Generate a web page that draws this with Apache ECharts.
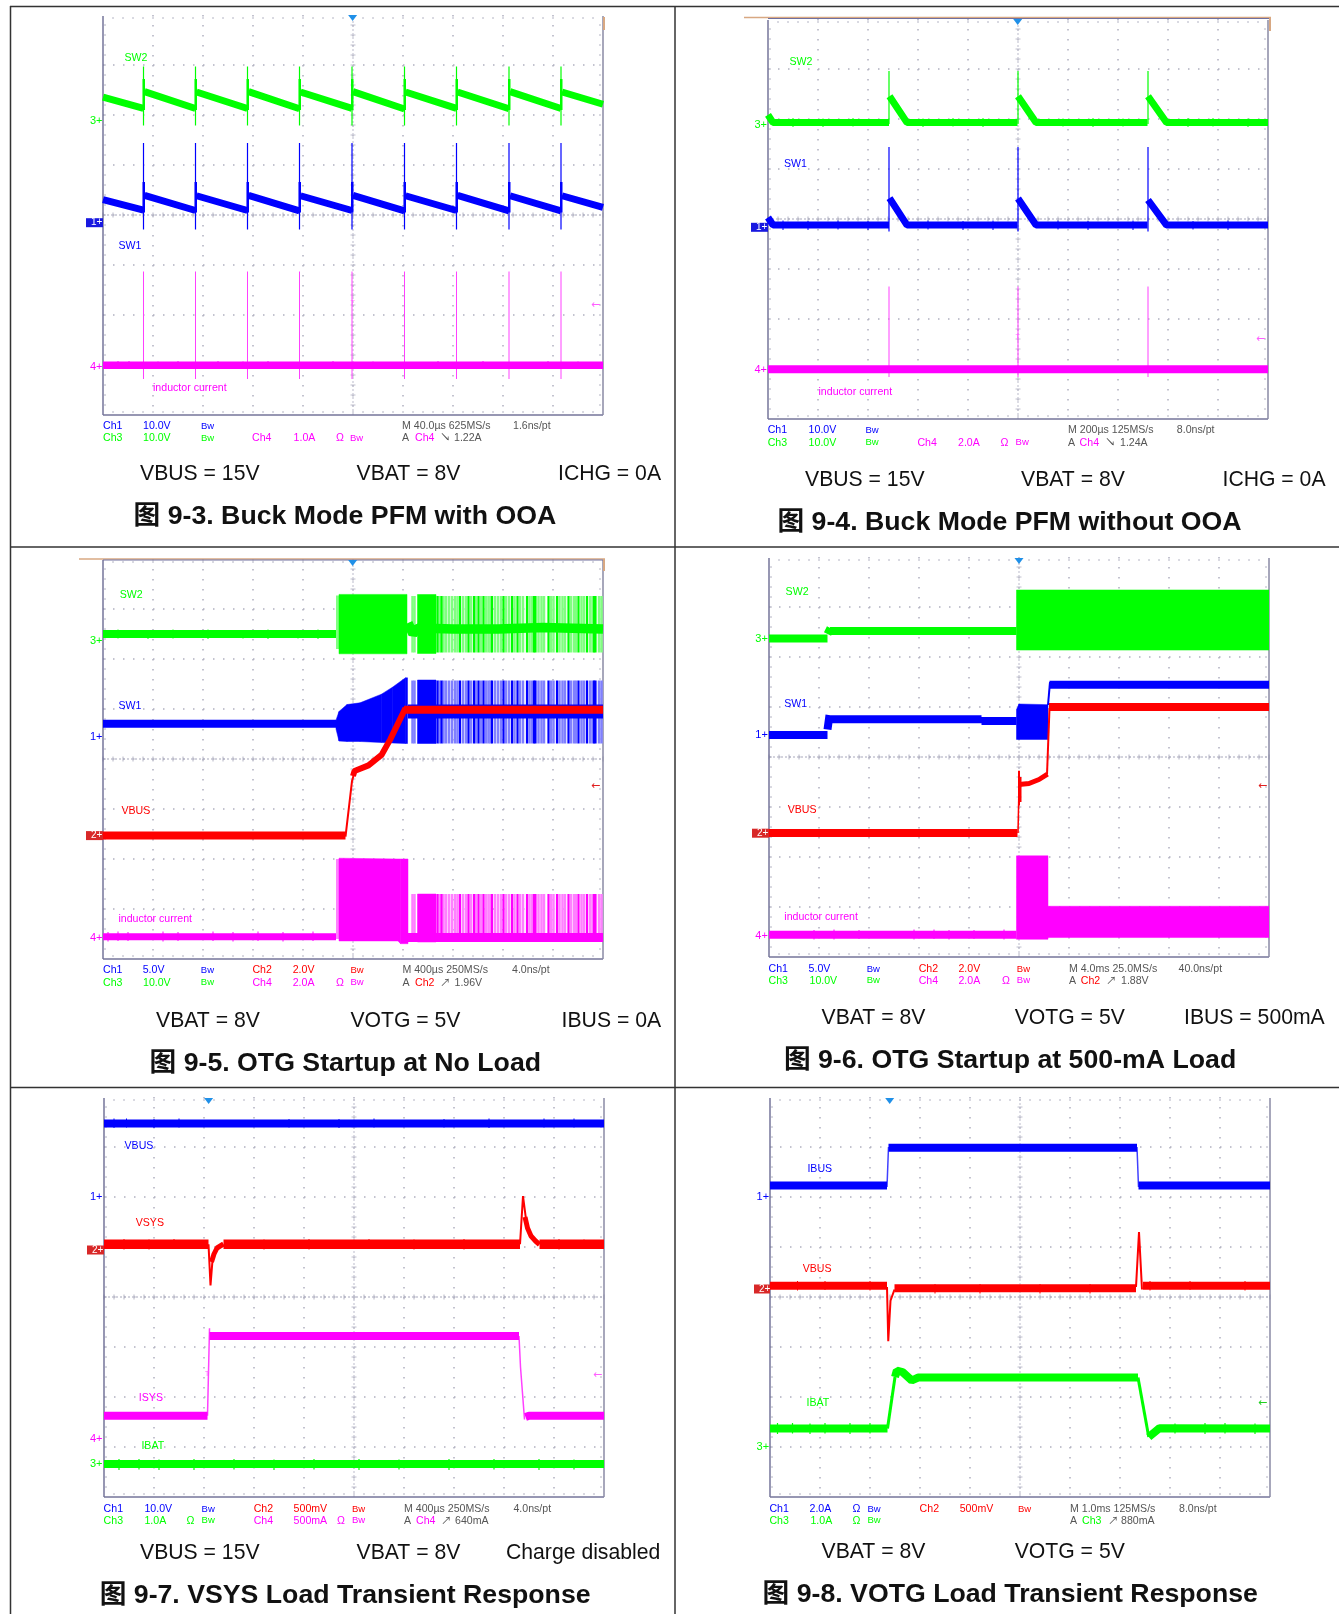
<!DOCTYPE html>
<html><head><meta charset="utf-8">
<style>html,body{margin:0;padding:0;background:#fff}#c{width:1339px;height:1614px}</style>
<script src="https://cdn.jsdelivr.net/npm/echarts@6/dist/echarts.min.js"></script>
</head><body><div id="c"></div>
<script>
// ---------- Values. x in horizontal divisions (0-10), y in vertical divisions (0-8). ----------
// Figure 9-3
const f3_sw2 = [[0,6.356],[0.81,6.131],null,[0.83,6.468],[1.85,6.131],null,[1.87,6.46],[2.89,6.13],null,[2.91,6.468],[3.93,6.125],null,[3.95,6.46],[4.98,6.131],null,[5.0,6.468],[6.03,6.12],null,[6.05,6.46],[7.07,6.131],null,[7.09,6.46],[8.12,6.125],null,[8.14,6.468],[9.16,6.131],null,[9.18,6.46],[10,6.215]];
const f3_sw1 = [[0,4.307],[0.81,4.097],null,[0.83,4.391],[1.85,4.09],null,[1.87,4.385],[2.89,4.09],null,[2.91,4.391],[3.93,4.083],null,[3.95,4.385],[4.98,4.09],null,[5.0,4.391],[6.03,4.083],null,[6.05,4.385],[7.07,4.09],null,[7.09,4.391],[8.12,4.083],null,[8.14,4.385],[9.16,4.083],null,[9.18,4.385],[10,4.153]];
const f3_il  = [[0,0.996],[10,0.996]];
const f3_edges = [0.81,1.85,2.89,3.93,4.98,6.03,7.07,8.12,9.16];
const f3_il_glitch = [[0.3,0.92,1.08],[0.52,0.92,1.08],[1.1,0.92,1.07],[1.5,0.92,1.08],[2.3,0.92,1.08],[2.8,0.92,1.07],[3.3,0.92,1.08],[4.6,0.92,1.08],[5.4,0.92,1.07],[6.7,0.92,1.08],[7.6,0.92,1.08],[8.9,0.92,1.08],[9.5,0.92,1.07]];
// Figure 9-4
const f4_sw2 = [[0,6.082],[0.1,5.928],[2.42,5.928],null,[2.43,6.454],[2.78,5.928],[4.99,5.928],null,[5.0,6.454],[5.36,5.928],[7.59,5.928],null,[7.6,6.454],[7.97,5.928],[10,5.928]];
const f4_sw1 = [[0,4.03],[0.1,3.879],[2.42,3.879],null,[2.43,4.419],[2.78,3.879],[4.99,3.879],null,[5.0,4.41],[5.36,3.879],[7.59,3.879],null,[7.6,4.38],[7.97,3.879],[10,3.879]];
const f4_il  = [[0,0.996],[10,0.996]];
const f4_edges = [2.42,5.0,7.6];
const f4_sw2_glitch = [[0.5,5.84,6.02],[1.1,5.84,6.01],[1.7,5.85,6.02],[3.1,5.84,6.01],[3.7,5.85,6.02],[4.3,5.84,6.02],[5.9,5.85,6.01],[6.5,5.84,6.02],[7.1,5.85,6.01],[8.4,5.84,6.02],[8.9,5.85,6.02],[9.6,5.84,6.01]];
const f4_sw1_glitch = [[0.3,3.78,3.97],[0.8,3.78,3.96],[1.4,3.79,3.97],[2.0,3.78,3.96],[3.2,3.79,3.97],[3.9,3.78,3.96],[4.5,3.78,3.97],[5.8,3.79,3.97],[6.4,3.78,3.96],[7.3,3.78,3.97],[8.5,3.79,3.96],[9.2,3.78,3.97]];
// Figure 9-5
const f5_sw2_flat = [[0,6.5],[4.66,6.5]];
const f5_sw2_mid  = [[6.1,6.72],[6.2,6.5],[6.3,6.62],[7.0,6.6],[7.9,6.6],[8.8,6.63],[10,6.6]];
const f5_sw2_env  = [[4.72,7.292,6.104],[6.08,7.292,6.104]];
const f5_sw2_dark = [[6.29,7.29,6.11],[6.66,7.29,6.11]];
const f5_sw1_flat = [[0,4.706],[4.66,4.706]];
const f5_sw1_mid  = [[6.1,4.95],[10,4.95]];
const f5_sw1_env  = [[4.66,4.776,4.6],[4.72,4.95,4.359],[4.88,5.089,4.35],[5.14,5.123,4.35],[5.57,5.297,4.33],[5.79,5.436,4.32],[6.05,5.624,4.31],[6.09,5.624,4.31]];
const f5_sw1_dark = [[6.29,5.58,4.31],[6.66,5.58,4.31]];
const f5_vbus_low = [[0,2.468],[4.85,2.468]];
const f5_vbus_rise= [[4.85,2.447],[4.98,3.559],[5.03,3.733]];
const f5_vbus_ramp= [[5.0,3.66],[5.03,3.76],[5.31,3.872],[5.57,4.081],[5.745,4.393],[6.05,5.019]];
const f5_vbus_high= [[6.02,4.984],[10,4.984]];
const f5_il_flat  = [[0,0.445],[4.66,0.445]];
const f5_il_mid   = [[6.08,0.431],[10,0.431]];
const f5_il_env   = [[4.72,2.016,0.361],[5.9,2.0,0.361],[5.95,2.0,0.306],[6.1,2.0,0.306]];
const f5_il_dark  = [[6.29,1.3,0.34],[6.66,1.3,0.34]];
const f5_entry = [4.69];
const f5_pulse_light = [6.19,6.23,6.73,6.81,6.86,6.92,6.98,7.04,7.09,7.2,7.26,7.36,7.46,7.56,7.66,7.71,7.75,7.84,7.9,7.96,8.06,8.12,8.23,8.34,8.4,8.53,8.58,8.71,8.77,8.82,8.96,9.01,9.13,9.19,9.24,9.36,9.42,9.46,9.57,9.62,9.74,9.79,9.92,9.97];
const f5_pulse_dark  = [6.69,6.77,7.14,7.31,7.42,7.51,7.61,7.78,8.01,8.18,8.29,8.48,8.62,8.65,8.91,9.08,9.31,9.51,9.68,9.82,9.85];
// Figure 9-6
const f6_sw2_flat = [[0,6.368],[1.17,6.368],null,[1.17,6.46],[1.23,6.576],null,[1.22,6.521],[4.95,6.521]];
const f6_sw2_env  = [[4.95,7.341,6.138],[10,7.341,6.138]];
const f6_sw1_flat = [[0,4.442],[1.17,4.442],null,[1.17,4.55],[1.21,4.838],null,[1.21,4.755],[4.25,4.755],null,[4.25,4.72],[4.95,4.72]];
const f6_sw1_env  = [[4.95,4.95,4.352],[5.0,5.06,4.352],[5.58,5.047,4.352]];
const f6_sw1_rise = [[5.58,5.04],[5.62,5.499]];
const f6_sw1_high = [[5.61,5.443],[10,5.443]];
const f6_vbus_low = [[0,2.482],[4.97,2.482]];
const f6_vbus_rise= [[4.98,2.48],[5.0,3.448]];
const f6_vbus_plat= [[5.0,3.45],[5.2,3.47],[5.4,3.55],[5.57,3.657]];
const f6_vbus_dip = [[5.0,3.031,3.726],[5.03,3.1,3.6]];
const f6_vbus_ramp= [[5.56,3.65],[5.61,4.98]];
const f6_vbus_high= [[5.6,4.998],[10,4.998]];
const f6_il_flat  = [[0,0.445],[4.95,0.445]];
const f6_il_env   = [[4.95,2.023,0.355],[5.58,2.023,0.355]];
const f6_il_env2  = [[5.58,1.015,0.389],[10,1.015,0.389]];
// Figure 9-7
const f7_vbus = [[0,7.47],[10,7.47]];
const f7_vsys = [[0,5.054],[2.09,5.054],null,[2.39,5.054],[8.32,5.054],null,[8.71,5.054],[10,5.054]];
const f7_vsys_dip = [[2.09,5.054],[2.13,4.231],[2.17,4.737]];
const f7_vsys_rec = [[2.15,4.7],[2.2,4.86],[2.26,4.98],[2.39,5.06]];
const f7_vsys_pk  = [[8.32,5.054],[8.38,6.019],[8.45,5.479]];
const f7_vsys_dec = [[8.42,5.6],[8.47,5.38],[8.54,5.22],[8.63,5.12],[8.71,5.05]];
const f7_isys = [[0,1.626],[2.07,1.626],null,[2.11,3.219],[8.3,3.219],null,[8.43,1.6],[8.5,1.626],[10,1.626]];
const f7_isys_up = [[2.07,1.626],[2.11,3.374]];
const f7_isys_dn = [[8.3,3.219],[8.33,2.6],[8.41,1.55]];
const f7_ibat = [[0,0.661],[10,0.661]];
// Figure 9-8
const f8_ibus = [[0,6.228],[2.34,6.228],null,[2.37,6.984],[7.34,6.984],null,[7.37,6.228],[10,6.228]];
const f8_ibus_edges = [[2.34,6.2],[2.37,7.0],null,[7.34,7.0],[7.37,6.2]];
const f8_vbus = [[0,4.224],[2.34,4.224],null,[2.49,4.177],[7.32,4.177],null,[7.46,4.224],[10,4.224]];
const f8_vbus_dip = [[2.34,4.2],[2.365,3.117],[2.41,3.927],[2.49,4.15]];
const f8_vbus_pk  = [[7.32,4.2],[7.38,5.297],[7.44,4.15]];
const f8_ibat = [[0,1.37],[2.35,1.37],null,[2.5,2.4],[2.536,2.53],[2.65,2.5],[2.835,2.33],[2.96,2.389],[7.36,2.389],null,[7.575,1.2],[7.79,1.377],[10,1.37]];
const f8_ibat_up = [[2.35,1.37],[2.5,2.4]];
const f8_ibat_dn = [[7.36,2.389],[7.575,1.2]];
// Noise glitches on the flat traces [x, low, high]
const f5_sw2_glitch = [[0.3,6.41,6.59],[0.9,6.4,6.58],[1.4,6.41,6.59],[2.1,6.4,6.59],[2.8,6.41,6.58],[3.3,6.4,6.59],[3.9,6.41,6.58],[4.3,6.4,6.59]];
const f5_il_glitch  = [[0.1,0.35,0.54],[0.3,0.36,0.55],[0.5,0.36,0.54],[1.2,0.35,0.55],[1.5,0.36,0.54],[2.2,0.36,0.55],[2.6,0.35,0.54],[3.1,0.36,0.55],[3.6,0.35,0.54],[4.2,0.36,0.55]];
const f6_il_glitch  = [[0.9,0.35,0.54],[1.3,0.35,0.55],[1.8,0.36,0.54],[2.9,0.35,0.55],[3.3,0.36,0.55],[3.6,0.35,0.54],[4.1,0.36,0.54],[4.7,0.35,0.55]];
const f7_vbus_glitch= [[0.2,7.38,7.57],[0.45,7.39,7.57],[1.0,7.38,7.56],[1.5,7.39,7.57],[3.7,7.39,7.56],[4.7,7.38,7.56],[5.4,7.39,7.57],[6.8,7.39,7.56],[7.7,7.38,7.57],[8.8,7.39,7.57],[9.4,7.39,7.57]];
const f7_ibat_glitch= [[0.3,0.54,0.76],[0.7,0.55,0.76],[1.1,0.54,0.75],[1.8,0.54,0.76],[2.6,0.55,0.76],[3.4,0.54,0.75],[4.2,0.55,0.76],[5.1,0.54,0.76],[5.9,0.55,0.75],[6.9,0.54,0.76],[7.8,0.55,0.76],[8.7,0.54,0.76],[9.4,0.55,0.75]];
const f7_vsys_glitch= [[0.4,4.95,5.16],[0.9,4.95,5.15],[1.4,4.96,5.16],[3.2,4.95,5.15],[4.1,4.95,5.16],[5.3,4.96,5.16],[6.2,4.95,5.15],[7.2,4.95,5.16],[9.1,4.95,5.16],[9.6,4.96,5.15]];
const f8_ibat_glitch= [[0.15,1.26,1.48],[0.45,1.27,1.48],[0.8,1.26,1.47],[1.1,1.27,1.48],[1.6,1.26,1.48],[2.0,1.27,1.48],[8.1,1.27,1.47],[8.7,1.26,1.48],[9.1,1.27,1.48],[9.7,1.26,1.47]];
const f8_vbus_glitch= [[0.55,4.13,4.32],[1.1,4.14,4.32],[2.0,4.13,4.32],[3.3,4.07,4.26],[4.2,4.07,4.26],[5.4,4.07,4.26],[6.4,4.07,4.26],[7.6,4.13,4.32],[8.4,4.14,4.32],[9.5,4.13,4.32]];

// Text of the figure
const titles = ['图 9-3. Buck Mode PFM with OOA','图 9-4. Buck Mode PFM without OOA','图 9-5. OTG Startup at No Load','图 9-6. OTG Startup at 500-mA Load','图 9-7. VSYS Load Transient Response','图 9-8. VOTG Load Transient Response'];
const conditions = [['VBUS = 15V','VBAT = 8V','ICHG = 0A'],['VBUS = 15V','VBAT = 8V','ICHG = 0A'],['VBAT = 8V','VOTG = 5V','IBUS = 0A'],['VBAT = 8V','VOTG = 5V','IBUS = 500mA'],['VBUS = 15V','VBAT = 8V','Charge disabled'],['VBAT = 8V','VOTG = 5V']];
const traceNames = [['SW2','SW1','inductor current'],['SW2','SW1','inductor current'],['SW2','SW1','VBUS','inductor current'],['SW2','SW1','VBUS','inductor current'],['VBUS','VSYS','ISYS','IBAT'],['IBUS','VBUS','IBAT']];

// ---------- Layout and style ----------
const BLUE='#0000ff',GREEN='#00ff00',RED='#ff0000',MAG='#ff00ff',DARK='#555555';
const LBLUE='#8080ff',LGREEN='#80ff80',LMAG='#ff80ff';
const SANS='"Liberation Sans","Noto Sans CJK SC",sans-serif';
const plots=[
 {l:103,t:15,b:415},{l:768,t:19,b:419},{l:103,t:559,b:959},
 {l:769,t:557,b:957},{l:104,t:1097,b:1497},{l:770,t:1097,b:1497}];

const series=[];let Z=10;
function line(g,data,color,width){series.push({type:'line',xAxisIndex:g,yAxisIndex:g,data,symbol:'none',showSymbol:false,connectNulls:false,silent:true,z:Z++,clip:true,
  lineStyle:{color,width,cap:'butt',join:'bevel'}});}
function band(g,rows,color){series.push({type:'custom',xAxisIndex:g,yAxisIndex:g,data:rows,silent:true,z:Z++,clip:true,encode:{x:0,y:[1,2]},
  renderItem(p,api){const i=p.dataIndex;if(i>=rows.length-1)return null;const r=rows[i],s=rows[i+1];
    const pts=[api.coord([r[0],r[1]]),api.coord([s[0],s[1]]),api.coord([s[0],s[2]]),api.coord([r[0],r[2]])];
    return {type:'polygon',shape:{points:pts},style:{fill:color,stroke:color,lineWidth:0.5}};}});}
function vlines(g,rows,color,width){series.push({type:'custom',xAxisIndex:g,yAxisIndex:g,data:rows,silent:true,z:Z++,clip:true,encode:{x:0,y:[1,2]},
  renderItem(p,api){const a=api.coord([api.value(0),api.value(1)]),b=api.coord([api.value(0),api.value(2)]);
    return {type:'line',shape:{x1:a[0],y1:a[1],x2:b[0],y2:b[1]},style:{stroke:color,lineWidth:width,fill:null}};}});}
const at=(xs,lo,hi)=>xs.map(x=>[x,lo,hi]);

// Graticule extras: frame, centre cross and its ticks
function graticule(g){series.push({type:'custom',xAxisIndex:g,yAxisIndex:g,data:[[0,0]],silent:true,z:2,clip:false,
  renderItem(p){const c=p.coordSys,x=c.x,y=c.y,w=c.width,h=c.height,ch=[];const col='#8f8fa8';
    const L=(x1,y1,x2,y2,st)=>ch.push({type:'line',shape:{x1,y1,x2,y2},style:Object.assign({stroke:col,lineWidth:1,fill:null},st||{})});
    const cx=x+w/2,cy=y+h/2;
    L(x,cy,x+w,cy,{lineDash:[2,2],stroke:'#a8a8bc'});L(cx,y+2,cx,y+h,{lineDash:[2,2],stroke:'#bcbccc'});
    for(let i=0;i<=w;i+=10){L(x+i,cy-2.5,x+i,cy+2.5,{stroke:'#b4b4c4'});if(i>0&&i<w){L(x+i,y+h-4,x+i,y+h-2,{stroke:'#b4b4c4'});L(x+i,y+2,x+i,y+4,{stroke:'#b4b4c4'});}}
    for(let i=10;i<h;i+=10){L(cx-2.5,y+i,cx+2.5,y+i,{stroke:'#c0c0ce'});L(x+1,y+i,x+3,y+i,{stroke:'#b4b4c4'});L(x+w-4,y+i,x+w-2,y+i,{stroke:'#b4b4c4'});}
    L(x,y+1,x,y+h,{stroke:'#75759a',lineWidth:1.5});L(x,y+h,x+w,y+h,{stroke:'#75759a',lineWidth:1.5});L(x+w,y+1,x+w,y+h,{stroke:'#8a8aa4',lineWidth:1.5});
    return {type:'group',children:ch};}});}

plots.forEach((_,g)=>graticule(g));

// --- 9-3
line(0,f3_sw2,GREEN,7);vlines(0,at(f3_edges,5.79,6.97),GREEN,1.2);vlines(0,at(f3_edges.map(x=>x+0.005),6.1,6.72),GREEN,2.5);
line(0,f3_sw1,BLUE,7);vlines(0,at(f3_edges,3.71,5.44),BLUE,1.2);vlines(0,at(f3_edges.map(x=>x+0.005),4.05,4.66),BLUE,2.5);
vlines(0,at(f3_edges,0.72,2.87),'#ff40ff',1);vlines(0,f3_il_glitch,MAG,1);line(0,f3_il,MAG,7.5);
// --- 9-4
vlines(1,f4_sw2_glitch,GREEN,1);line(1,f4_sw2,GREEN,7);vlines(1,at(f4_edges,5.9,6.96),GREEN,1.2);
vlines(1,f4_sw1_glitch,BLUE,1);line(1,f4_sw1,BLUE,7);vlines(1,at(f4_edges,3.75,5.44),BLUE,1.2);
vlines(1,at(f4_edges,0.84,2.65),'#ff40ff',1);line(1,f4_il,MAG,8);
// --- 9-5
vlines(2,at(f5_entry,6.2,7.27),LGREEN,3);band(2,f5_sw2_env,GREEN);vlines(2,at(f5_pulse_light,6.13,7.26),LGREEN,2.5);band(2,f5_sw2_dark,GREEN);vlines(2,at(f5_pulse_dark,6.13,7.26),GREEN,2.2);
vlines(2,f5_sw2_glitch,GREEN,1);line(2,f5_sw2_flat,GREEN,8);line(2,f5_sw2_mid,GREEN,9.5);
band(2,f5_sw1_env,BLUE);vlines(2,at(f5_pulse_light,4.31,5.57),LBLUE,2.5);band(2,f5_sw1_dark,BLUE);vlines(2,at(f5_pulse_dark,4.31,5.57),BLUE,2.2);
line(2,f5_sw1_flat,BLUE,8);line(2,f5_sw1_mid,BLUE,14);
line(2,f5_vbus_low,RED,8);line(2,f5_vbus_rise,RED,2);line(2,f5_vbus_ramp,RED,6);line(2,f5_vbus_high,RED,8);
vlines(2,at(f5_entry,0.4,2.0),LMAG,3);band(2,f5_il_env,MAG);vlines(2,at(f5_pulse_light,0.34,1.3),LMAG,2.5);band(2,f5_il_dark,MAG);vlines(2,at(f5_pulse_dark,0.34,1.3),MAG,2.2);
vlines(2,f5_il_glitch,MAG,1);line(2,f5_il_flat,MAG,7);line(2,f5_il_mid,MAG,9);
// --- 9-6
band(3,f6_sw2_env,GREEN);line(3,f6_sw2_flat,GREEN,8);
band(3,f6_sw1_env,BLUE);line(3,f6_sw1_rise,BLUE,2);line(3,f6_sw1_flat,BLUE,8);line(3,f6_sw1_high,BLUE,8);
line(3,f6_vbus_low,RED,8);line(3,f6_vbus_rise,RED,1.5);vlines(3,f6_vbus_dip,RED,2);line(3,f6_vbus_plat,RED,5);line(3,f6_vbus_ramp,RED,2);line(3,f6_vbus_high,RED,8);
band(3,f6_il_env,MAG);band(3,f6_il_env2,MAG);vlines(3,f6_il_glitch,MAG,1);line(3,f6_il_flat,MAG,8);
// --- 9-7
vlines(4,f7_vbus_glitch,BLUE,1);line(4,f7_vbus,BLUE,8);
line(4,f7_vsys_dip,RED,2);line(4,f7_vsys_pk,RED,2);line(4,f7_vsys_rec,RED,5);line(4,f7_vsys_dec,RED,5);vlines(4,f7_vsys_glitch,RED,1);line(4,f7_vsys,RED,9.5);
line(4,f7_isys_up,'#ff40ff',1.5);line(4,f7_isys_dn,'#ff40ff',1.5);line(4,f7_isys,MAG,8);
vlines(4,f7_ibat_glitch,GREEN,1.2);line(4,f7_ibat,GREEN,8);
// --- 9-8
line(5,f8_ibus_edges,'#4040ff',1.5);line(5,f8_ibus,BLUE,8);
line(5,f8_vbus_dip,RED,2);line(5,f8_vbus_pk,RED,2);vlines(5,f8_vbus_glitch,RED,1);line(5,f8_vbus,RED,8);
line(5,f8_ibat_up,GREEN,3);line(5,f8_ibat_dn,GREEN,3);vlines(5,f8_ibat_glitch,GREEN,1.2);line(5,f8_ibat,GREEN,8);

// ---------- Text and furniture ----------
const gfx=[];
const T=(text,x,y,fill,font)=>gfx.push({type:'text',x,y,silent:true,z:100,style:{text,fill,font:font||('10.6px '+SANS),align:'left',verticalAlign:'middle'}});
const R=(x,y,w,h,fill)=>gfx.push({type:'rect',silent:true,z:50,shape:{x,y,width:w,height:h},style:{fill}});
const LN=(x1,y1,x2,y2,stroke,lw)=>gfx.push({type:'line',silent:true,z:50,shape:{x1,y1,x2,y2},style:{stroke,lineWidth:lw}});
const TRI=(x,y)=>gfx.push({type:'polygon',silent:true,z:60,shape:{points:[[x-4.5,y-3],[x+4.5,y-3],[x,y+3]]},style:{fill:'#2090e8'}});
const BW=(x,y,c)=>T('Bw',x,y,c,'9.5px '+SANS);
const ARW='11px "DejaVu Sans",sans-serif';

// frame
LN(10,6.5,1339,6.5,'#333',1.5);LN(10,547,1339,547,'#333',1.5);LN(10,1087.5,1339,1087.5,'#333',1.5);
LN(10.5,6,10.5,1614,'#333',1.5);LN(675,6,675,1614,'#333',1.5);
// peach stubs
R(603,17,2,13,'#d8a882');
LN(744,17.5,1271,17.5,'#d8a882',1.5);LN(768,18.5,1269,18.5,'#7070a0',1);R(1269,17,2,14,'#d8a882');
LN(79,559,605,559,'#d8a882',1.5);LN(103,560,603,560,'#7070a0',1);R(603,559,2,12,'#d8a882');

// captions & titles
const CF='21.2px '+SANS, TF='bold 26.7px '+SANS;
const capX=[[140,356.5,558],[805,1021,1222.5],[156,350.4,561.6],[821.5,1014.7,1184],[140,356.5,506],[821.5,1014.7]];
const capY=[474,480.3,1021,1018.2,1553.5,1552];
const titleX=[133.6,777.5,149.6,783.9,99.7,762.6], titleY=[516.5,522.5,1063.5,1060.3,1595.4,1594.4];
conditions.forEach((c,i)=>c.forEach((s,j)=>T(s,capX[i][j],capY[i],'#111',CF)));
titles.forEach((s,i)=>T(s,titleX[i],titleY[i],'#111',TF));

// trace names
const LBL=[
 [[124.5,58,GREEN],[118.4,245.5,BLUE],[153,388,MAG]],
 [[789.5,62,GREEN],[784,164,BLUE],[818.5,392,MAG]],
 [[119.7,594.4,GREEN],[118.4,706,BLUE],[121.4,811,RED],[118.4,918.7,MAG]],
 [[785.6,591.2,GREEN],[784.3,703.5,BLUE],[787.7,809.2,RED],[784.3,916.2,MAG]],
 [[124.5,1146,BLUE],[135.7,1223,RED],[138.8,1398,MAG],[141.4,1445.3,GREEN]],
 [[807.4,1169,BLUE],[802.7,1268.2,RED],[806.5,1403,GREEN]]];
traceNames.forEach((a,i)=>a.forEach((s,j)=>T(s,LBL[i][j][0],LBL[i][j][1]+0.5,LBL[i][j][2])));

// readouts
function ro(y1,y2,rows){rows.forEach(r=>{const y=(r[3]?y2:y1)+0.5;if(r[0]==='Bw')BW(r[1],y,r[2]);else T(r[0],r[1],y,r[2]);});}
ro(426,438,[['Ch1',103,BLUE],['10.0V',143,BLUE],['Bw',201,BLUE],['M 40.0µs 625MS/s',402,DARK],['1.6ns/pt',513,DARK],
 ['Ch3',103,GREEN,1],['10.0V',143,GREEN,1],['Bw',201,GREEN,1],['Ch4',252,MAG,1],['1.0A',293.6,MAG,1],['Ω',336,MAG,1],['Bw',350,MAG,1],['A',402,DARK,1],['Ch4',415,MAG,1],['↘',440,DARK,1],['1.22A',454,DARK,1]]);
ro(430,442.3,[['Ch1',767.7,BLUE],['10.0V',808.6,BLUE],['Bw',865.4,BLUE],['M 200µs 125MS/s',1068,DARK],['8.0ns/pt',1176.8,DARK],
 ['Ch3',767.7,GREEN,1],['10.0V',808.6,GREEN,1],['Bw',865.4,GREEN,1],['Ch4',917.4,MAG,1],['2.0A',958,MAG,1],['Ω',1000.6,MAG,1],['Bw',1015.6,MAG,1],['A',1068,DARK,1],['Ch4',1079.6,MAG,1],['↘',1105,DARK,1],['1.24A',1120,DARK,1]]);
ro(970,982.3,[['Ch1',103,BLUE],['5.0V',142.7,BLUE],['Bw',200.8,BLUE],['Ch2',252.4,RED],['2.0V',292.7,RED],['Bw',350.4,RED],['M 400µs 250MS/s',402.4,DARK],['4.0ns/pt',512,DARK],
 ['Ch3',103,GREEN,1],['10.0V',143,GREEN,1],['Bw',200.8,GREEN,1],['Ch4',252.4,MAG,1],['2.0A',292.7,MAG,1],['Ω',336,MAG,1],['Bw',350.4,MAG,1],['A',402.4,DARK,1],['Ch2',415,RED,1],['↗',440,DARK,1],['1.96V',454.5,DARK,1]]);
ro(968.4,980.2,[['Ch1',768.5,BLUE],['5.0V',808.6,BLUE],['Bw',866.7,BLUE],['Ch2',918.7,RED],['2.0V',958.4,RED],['Bw',1016.8,RED],['M 4.0ms 25.0MS/s',1068.9,DARK],['40.0ns/pt',1178.5,DARK],
 ['Ch3',768.5,GREEN,1],['10.0V',809.5,GREEN,1],['Bw',866.7,GREEN,1],['Ch4',918.7,MAG,1],['2.0A',958.4,MAG,1],['Ω',1001.9,MAG,1],['Bw',1016.8,MAG,1],['A',1068.9,DARK,1],['Ch2',1080.8,RED,1],['↗',1106,DARK,1],['1.88V',1121,DARK,1]]);
ro(1508.4,1520.2,[['Ch1',103.6,BLUE],['10.0V',144.4,BLUE],['Bw',201.6,BLUE],['Ch2',253.7,RED],['500mV',293.6,RED],['Bw',352,RED],['M 400µs 250MS/s',404,DARK],['4.0ns/pt',513.4,DARK],
 ['Ch3',103.6,GREEN,1],['1.0A',144.4,GREEN,1],['Ω',186.5,GREEN,1],['Bw',201.6,GREEN,1],['Ch4',253.7,MAG,1],['500mA',293.6,MAG,1],['Ω',337,MAG,1],['Bw',352,MAG,1],['A',404,DARK,1],['Ch4',416,MAG,1],['↗',441,DARK,1],['640mA',455,DARK,1]]);
ro(1508.4,1520.2,[['Ch1',769.4,BLUE],['2.0A',809.5,BLUE],['Ω',852.6,BLUE],['Bw',867.5,BLUE],['Ch2',919.6,RED],['500mV',959.7,RED],['Bw',1018,RED],['M 1.0ms 125MS/s',1070,DARK],['8.0ns/pt',1179,DARK],
 ['Ch3',769.4,GREEN,1],['1.0A',810.4,GREEN,1],['Ω',852.6,GREEN,1],['Bw',867.5,GREEN,1],['A',1070,DARK,1],['Ch3',1082,GREEN,1],['↗',1108,DARK,1],['880mA',1121,DARK,1]]);

// channel markers
const chText=[[ '3+',90,120.7,GREEN],['4+',90,366.5,MAG],
 ['3+',754.5,124.5,GREEN],['4+',754.5,370.4,MAG],
 ['3+',90,641.3,GREEN],['1+',90,737.2,BLUE],['4+',90,937.8,MAG],
 ['3+',755.3,638.8,GREEN],['1+',755.3,735,BLUE],['4+',755.3,935.7,MAG],
 ['1+',90,1197,BLUE],['4+',90,1439,MAG],['3+',90,1464,GREEN],
 ['1+',756.6,1197,BLUE],['3+',756.6,1446.7,GREEN]];
chText.forEach(c=>T(c[0],c[1],c[2],c[3],'11px '+SANS));
const chBox=[['1+',86,222.7,'#1818e0',17],['1+',751,227.3,'#1818e0',17],['2+',86,835.6,'#d82828',17],['2+',752,833.2,'#d82828',17],['2+',87,1250,'#d82828',17],['2+',754,1289,'#d82828',16]];
chBox.forEach(c=>{R(c[1],c[2]-4.5,c[4],9,c[3]);T(c[0],c[1]+5,c[2],'#fff','10px '+SANS);});

// trigger markers and arrows
[[352.6,18],[1017.7,22],[352.6,563],[1019,561],[208.6,1101],[889.7,1101]].forEach(t=>TRI(t[0],t[1]));
[[591,305,'#ff60ff'],[1256,339,'#ff60ff'],[591,786.6,'#e02020'],[1258,785.9,'#e02020'],[593,1375.5,'#ff60ff'],[1258,1402.8,'#20d020']].forEach(a=>T('←',a[0],a[1],a[2],ARW));
[[350.5,303,'#ff60ff'],[1015.5,337,'#ff60ff'],[205,1374,'#ff60ff']].forEach(a=>T('T',a[0],a[1],a[2],'7px '+SANS));

const chart=echarts.init(document.getElementById('c'),null,{renderer:'canvas'});
chart.setOption({
 animation:false,backgroundColor:'#ffffff',
 grid:plots.map(p=>({left:p.l,top:p.t,width:500,height:p.b-p.t,show:false,containLabel:false})),
 xAxis:plots.map((p,g)=>({type:'value',gridIndex:g,min:0,max:10,interval:1,axisLabel:{show:false},axisTick:{show:false},axisLine:{show:false},
   splitLine:{show:true,showMinLine:false,showMaxLine:false,lineStyle:{color:'#b0b0c0',width:1.5,type:[1.5,8.5]}}})),
 yAxis:plots.map((p,g)=>({type:'value',gridIndex:g,min:0,max:8,interval:1,axisLabel:{show:false},axisTick:{show:false},axisLine:{show:false},
   splitLine:{show:true,showMinLine:false,showMaxLine:false,lineStyle:{color:'#b0b0c0',width:1.5,type:[1.5,8.5]}}})),
 series,graphic:{elements:gfx}
});
</script></body></html>
